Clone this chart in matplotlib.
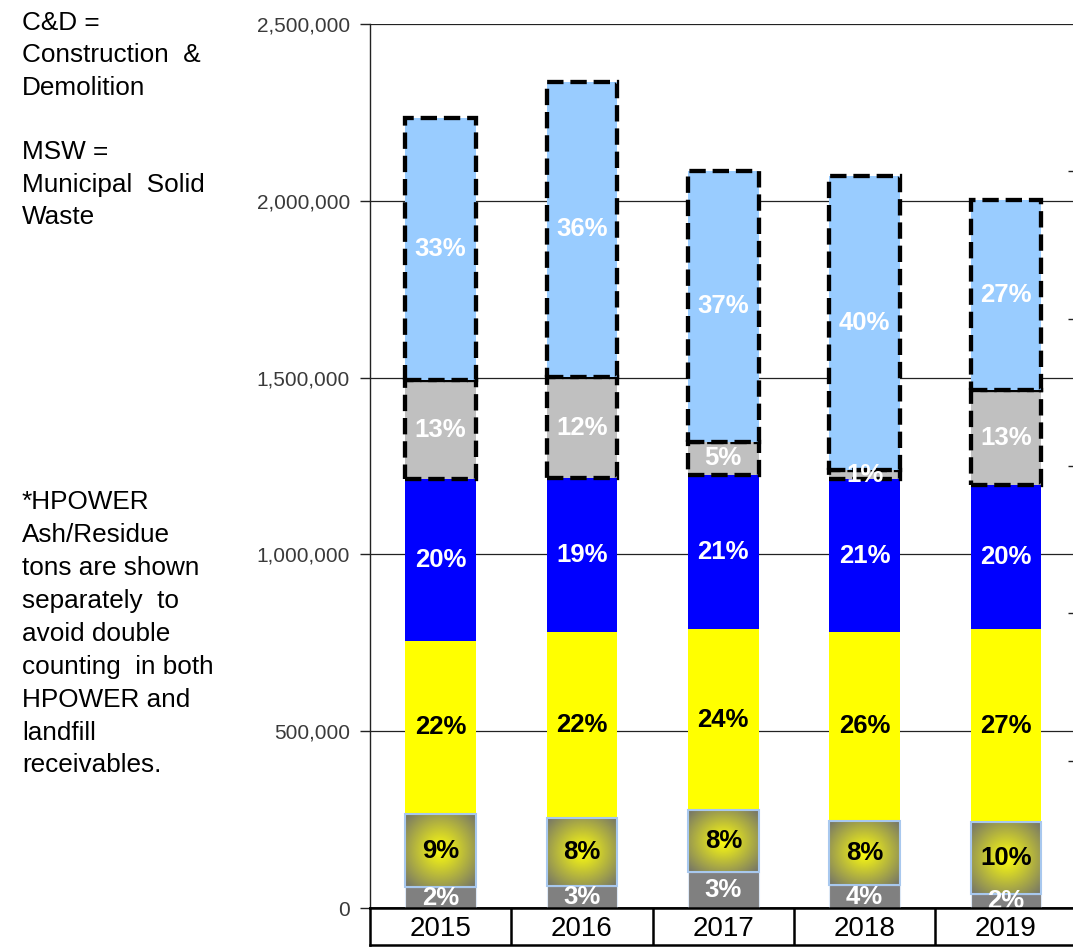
import numpy as np
import matplotlib
matplotlib.use("Agg")
import matplotlib.pyplot as plt

# ---- data (tons) ----
years = ["2015", "2016", "2017", "2018", "2019"]
hpower_ash = [58000, 61000, 103000, 65000, 41000]          # dark gray, bottom
hpower_resid = [208000, 193000, 174000, 182000, 202000]     # gradient segment
msw_yellow = [489000, 526000, 512000, 533000, 546000]       # yellow
msw_blue = [457000, 435000, 435000, 432000, 407000]         # blue
cd_gray = [281000, 287000, 95000, 27000, 269000]            # light gray (dashed)
cd_lightblue = [741000, 834000, 765000, 831000, 537000]     # light blue (dashed)

pct_ash = ["2%", "3%", "3%", "4%", "2%"]
pct_resid = ["9%", "8%", "8%", "8%", "10%"]
pct_yellow = ["22%", "22%", "24%", "26%", "27%"]
pct_blue = ["20%", "19%", "21%", "21%", "20%"]
pct_cdgray = ["13%", "12%", "5%", "1%", "13%"]
pct_lightblue = ["33%", "36%", "37%", "40%", "27%"]

yticks = [0, 500000, 1000000, 1500000, 2000000, 2500000]
ytick_labels = ["0", "500,000", "1,000,000", "1,500,000", "2,000,000", "2,500,000"]

left_note = "C&D =\nConstruction  &\nDemolition\n\nMSW =\nMunicipal  Solid\nWaste"
hpower_note = ("*HPOWER\nAsh/Residue\ntons are shown\nseparately  to\navoid double\n"
               "counting  in both\nHPOWER and\nlandfill\nreceivables.")

plt.rcParams['font.family'] = ['Liberation Sans', 'DejaVu Sans']

W, H = 1073, 948
fig = plt.figure(figsize=(W / 100, H / 100), dpi=100)

ax_l, ax_r, ax_t, ax_b = 370, 1076.5, 24, 908
ax = fig.add_axes([ax_l / W, (H - ax_b) / H, (ax_r - ax_l) / W, (ax_b - ax_t) / H])

x = np.arange(len(years))
bw = 0.5

series = [
    (hpower_ash, "#808080", pct_ash, "white"),
    (hpower_resid, None, pct_resid, "black"),
    (msw_yellow, "#FFFF00", pct_yellow, "black"),
    (msw_blue, "#0000FF", pct_blue, "white"),
    (cd_gray, "#C0C0C0", pct_cdgray, "white"),
    (cd_lightblue, "#99CCFF", pct_lightblue, "white"),
]

bottom = np.zeros(len(years))
for idx, (vals, col, labels, tcol) in enumerate(series):
    vals = np.array(vals, dtype=float)
    if col is None:
        # radial gradient segment
        bars = ax.bar(x, vals, bw, bottom=bottom, color="none", edgecolor="#A8C8EE",
                      linewidth=1.5, zorder=4)
        ny, nx = 60, 60
        gy, gx = np.mgrid[-1:1:ny * 1j, -1:1:nx * 1j]
        r = np.clip(np.sqrt(gx ** 2 + gy ** 2) / 1.35, 0, 1)
        c0 = np.array([1.0, 1.0, 0.05])
        c1 = np.array([0.47, 0.47, 0.40])
        img = c0[None, None, :] * (1 - r[..., None]) + c1[None, None, :] * r[..., None]
        for b in bars:
            bx, by = b.get_x(), b.get_y()
            ax.imshow(img, extent=[bx, bx + b.get_width(), by, by + b.get_height()],
                      aspect="auto", zorder=3, interpolation="bilinear")
    elif idx >= 4:
        bars = ax.bar(x, vals, bw, bottom=bottom, color=col, edgecolor="black",
                      linewidth=3.1, linestyle=(0, (3.8, 1.6)), zorder=5)
    else:
        ec = "#DDE8F5" if idx == 0 else col
        bars = ax.bar(x, vals, bw, bottom=bottom, color=col, edgecolor=ec,
                      linewidth=0.8 if idx == 0 else 0, zorder=3)
    for xi, b0, v, lab in zip(x, bottom, vals, labels):
        ax.text(xi, b0 + v / 2, lab, ha="center", va="center", color=tcol,
                fontsize=18.5, fontweight="bold", zorder=6)
    bottom = bottom + vals

ax.set_xlim(-0.5, len(years) - 0.5)
ax.set_ylim(0, 2500000)
ax.set_yticks(yticks)
ax.set_yticklabels(ytick_labels, fontsize=15, color="#3a3a3a")
ax.set_xticks([])
ax.tick_params(axis="y", direction="out", length=7, width=1, color="#222222", pad=7.5)
ax.grid(axis="y", color="#222222", linewidth=0.9, zorder=0)
ax.set_axisbelow(True)
for s in ["top", "right"]:
    ax.spines[s].set_visible(False)
ax.spines["left"].set_color("#222222")
ax.spines["left"].set_linewidth(1.0)
ax.spines["bottom"].set_color("black")
ax.spines["bottom"].set_linewidth(1.8)

# secondary axis ticks (labels cut off in reference)
tw = ax.twinx()
tw.set_ylim(0, 6)
tw.set_yticks([1, 2, 3, 4, 5])
tw.set_yticklabels([])
tw.tick_params(axis="y", direction="in", length=6, width=1, color="#222222")
for s in tw.spines.values():
    s.set_visible(False)

# category table below axis
tb_t, tb_b = 908, 945
tab = fig.add_axes([ax_l / W, (H - tb_b) / H, (ax_r - ax_l) / W, (tb_b - tb_t) / H])
tab.set_xlim(-0.5, len(years) - 0.5)
tab.set_ylim(0, 1)
tab.set_xticks([])
tab.set_yticks([])
for s in tab.spines.values():
    s.set_linewidth(1.8)
    s.set_color("black")
for b in np.arange(0.5, len(years) - 0.5, 1.0):
    tab.axvline(b, color="black", linewidth=1.8)
for xi, yl in zip(x, years):
    tab.text(xi, 0.5, yl, ha="center", va="center_baseline", fontsize=20, color="black")

# notes on the left
fig.text(22 / W, 1 - 11 / H, left_note, ha="left", va="top", fontsize=18.8,
         linespacing=1.44, color="black")
fig.text(22 / W, 1 - 490 / H, hpower_note, ha="left", va="top", fontsize=18.8,
         linespacing=1.47, color="black")

fig.savefig("out.png", dpi=100)
